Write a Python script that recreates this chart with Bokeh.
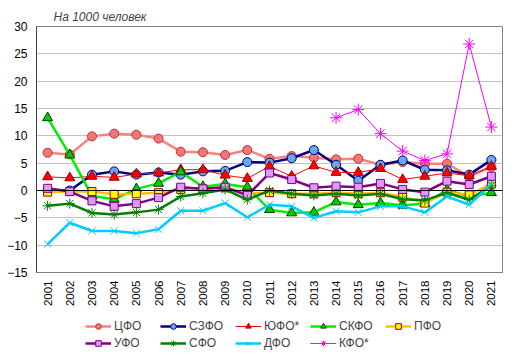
import math
from bokeh.plotting import figure
from bokeh.layouts import column
from bokeh.models import (ColumnDataSource, FactorRange, Range1d, Span, Legend,
                          LegendItem, SingleIntervalTicker)
from bokeh.embed import file_html
from bokeh.resources import INLINE

nan = float("nan")

years = [str(y) for y in range(2001, 2022)]

cfo   = [6.9, 6.6, 9.9, 10.4, 10.2, 9.5, 7.1, 7.0, 6.5, 7.4, 5.8, 6.3, 6.0, 5.7, 5.8, 4.7, 5.2, 4.9, 4.9, 2.6, 4.3]
szfo  = [0.0, 0.0, 2.9, 3.5, 2.9, 3.3, 2.9, 3.5, 3.6, 5.2, 5.1, 5.9, 7.4, 4.7, 1.8, 4.7, 5.5, 3.8, 3.7, 2.9, 5.6]
yufo  = [2.5, 2.3, 2.6, 2.4, 3.0, 3.2, 3.8, 3.8, 2.8, 2.2, 4.4, 2.6, 4.5, 3.3, 3.3, 4.0, 2.0, 2.6, 3.2, 2.7, 4.4]
skfo  = [13.3, 6.5, -1.0, -1.6, 0.3, 1.3, 3.4, 0.7, 1.2, 0.6, -3.5, -4.1, -4.0, -2.1, -2.6, -2.3, -2.7, -2.4, 0.1, -1.1, -0.4]
pfo   = [-0.3, -0.2, -0.2, -0.7, -0.6, -0.4, 0.2, 0.3, 0.5, -0.5, -0.4, -0.6, -0.6, -0.4, -0.6, -0.4, -1.2, -2.3, -0.3, -0.8, 1.2]
ufo   = [0.4, -0.2, -1.9, -2.9, -2.4, -1.3, 0.6, 0.3, 0.6, -0.9, 3.2, 2.0, 0.5, 0.8, 0.6, 1.3, 0.2, -0.3, 1.7, 1.1, 2.6]
sfo   = [-2.8, -2.4, -4.1, -4.4, -4.0, -3.5, -1.1, -0.5, 0.2, -1.7, 0.0, -0.6, -0.9, -0.6, -0.9, -0.6, -1.6, -1.8, -0.4, -1.7, 0.9]
dfo   = [-9.8, -5.9, -7.4, -7.4, -7.8, -7.1, -3.7, -3.7, -2.3, -4.9, -2.6, -2.9, -5.0, -3.8, -4.0, -2.9, -2.9, -4.0, -1.1, -2.6, 1.2]
kfo   = [nan] * 13 + [13.3, 14.8, 10.4, 7.2, 5.5, 6.7, 26.8, 11.6]

names = ["ЦФО", "СЗФО", "ЮФО*", "СКФО", "ПФО", "УФО", "СФО", "ДФО", "КФО*"]
series = [cfo, szfo, yufo, skfo, pfo, ufo, sfo, dfo, kfo]

# style: line color, line width, marker, fill, marker outline, size
styles = [
    ("#FF8080", 2.5, "circle",   "#F07878", "#C03030", 9),
    ("#000080", 2.5, "circle",   "#66AAEE", "#000080", 9),
    ("#FF0000", 1.0, "triangle", "#FF0000", "#A00000", 10),
    ("#00EE00", 2.5, "triangle", "#00CC00", "#004000", 10),
    ("#FFC000", 2.5, "square",   "#FFFF00", "#A00000", 8),
    ("#800080", 2.5, "square",   "#DD99FF", "#800080", 8),
    ("#008000", 2.5, "asterisk", "#008000", "#008000", 10),
    ("#00CCFF", 2.5, "x",        "#00CCFF", "#00CCFF", 10),
    ("#FF00FF", 1.0, "asterisk", "#FF00FF", "#FF00FF", 12),
]

FONT = "Liberation Sans"

p = figure(width=515, height=310, x_range=FactorRange(*years, range_padding=0),
           y_range=Range1d(-15, 30), output_backend="svg", toolbar_location=None,
           min_border_left=36, min_border_right=13, min_border_top=26,
           min_border_bottom=38)
p.title.text = "На 1000 человек"
p.title.text_font = FONT
p.title.text_font_style = "italic"
p.title.text_font_size = "12px"
p.title.offset = 17
p.title.standoff = 5
p.outline_line_color = "#808080"
p.outline_line_width = 1

p.xgrid.grid_line_color = None
p.ygrid.grid_line_color = "#C0C0C0"
p.ygrid.grid_line_width = 1

p.yaxis.ticker = SingleIntervalTicker(interval=5)
p.yaxis.minor_tick_line_color = None
p.yaxis.major_tick_out = 0
p.yaxis.major_tick_in = 0
p.yaxis.axis_line_color = "#404040"
p.yaxis.major_label_text_font = FONT
p.yaxis.major_label_text_font_size = "12px"
p.yaxis.major_label_text_color = "#000000"
p.yaxis.major_label_standoff = 5

p.xaxis.major_label_orientation = math.pi / 2
p.xaxis.major_tick_out = 0
p.xaxis.major_tick_in = 0
p.xaxis.axis_line_color = "#808080"
p.xaxis.major_label_text_font = FONT
p.xaxis.major_label_text_font_size = "11.5px"
p.xaxis.major_label_text_color = "#000000"
p.xaxis.major_label_standoff = 8

p.add_layout(Span(location=0, dimension="width", line_color="#000000", line_width=1))

# legend strip below the chart
lf = figure(width=515, height=45, x_range=Range1d(0, 1), y_range=Range1d(0, 1),
            output_backend="svg", toolbar_location=None,
            x_axis_location=None, y_axis_location=None,
            min_border=0, min_border_left=0, min_border_right=0,
            min_border_top=0, min_border_bottom=0)
lf.outline_line_color = None
lf.xgrid.grid_line_color = None
lf.ygrid.grid_line_color = None

items = []
for name, vals, st in zip(names, series, styles):
    lc, lw, mk, fc, oc, sz = st
    src = ColumnDataSource(dict(x=years, y=vals))
    p.line("x", "y", source=src, line_color=lc, line_width=lw)
    p.scatter("x", "y", source=src, marker=mk, size=sz, fill_color=fc,
              line_color=oc, line_width=1)
    # legend-only renderers with small markers (single NaN point, not drawn)
    dummy = ColumnDataSource(dict(x=[0.5], y=[nan]))
    lr = lf.line("x", "y", source=dummy, line_color=lc, line_width=lw)
    sr = lf.scatter("x", "y", source=dummy, marker=mk, size=6, fill_color=fc,
                    line_color=oc, line_width=1)
    items.append(LegendItem(label=name, renderers=[lr, sr]))

def make_legend(its, loc):
    return Legend(items=its, orientation="horizontal",
                  glyph_width=26, glyph_height=14, label_standoff=3,
                  label_width=42, spacing=4, padding=2, margin=0,
                  label_text_font=FONT, label_text_font_size="12px",
                  label_height=14,
                  border_line_color=None, background_fill_alpha=0,
                  location=loc)

lf.add_layout(make_legend(items[:5], (49, 22)))
lf.add_layout(make_legend(items[5:], (49, 5)))

layout = column(p, lf, spacing=0)
open("out.html", "w").write(file_html(layout, INLINE))
